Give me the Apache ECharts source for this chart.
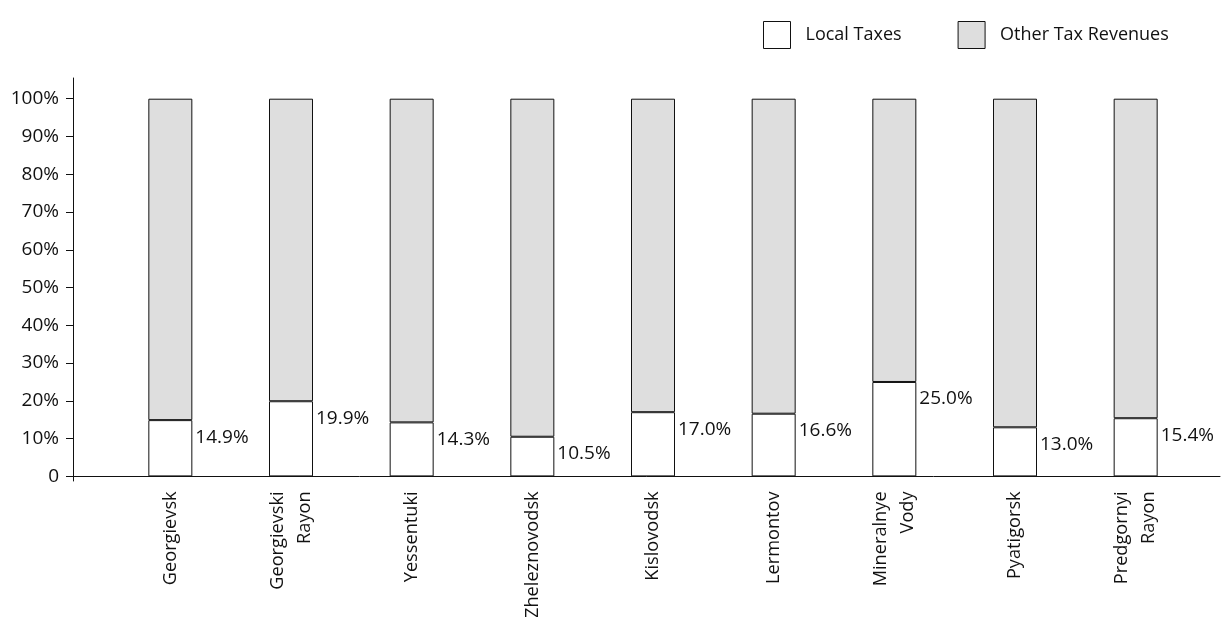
<!DOCTYPE html>
<html>
<head>
<meta charset="utf-8">
<script src="https://cdn.jsdelivr.net/npm/echarts@6/dist/echarts.min.js"></script>
<style>
  html, body { margin: 0; padding: 0; background: #fff; }
  #chart { width: 1223px; height: 617px; }
</style>
</head>
<body>
<div id="chart"></div>
<script>
// Share of local taxes in total tax revenues, by municipality
const categories = [
  'Georgievsk', 'Georgievski\nRayon', 'Yessentuki', 'Zheleznovodsk',
  'Kislovodsk', 'Lermontov', 'Mineralnye\nVody', 'Pyatigorsk', 'Predgornyi\nRayon'
];
const localTaxes = [14.9, 19.9, 14.3, 10.5, 17.0, 16.6, 25.0, 13.0, 15.4];
const otherTaxRevenues = [85.1, 80.1, 85.7, 89.5, 83.0, 83.4, 75.0, 87.0, 84.6];
const seriesNames = ['Local Taxes', 'Other Tax Revenues'];
const yTicks = [0, 10, 20, 30, 40, 50, 60, 70, 80, 90, 100];

const FONT = "'Open Sans', 'Noto Sans', sans-serif";
const INK = '#111111';
const NUMBER_SIZE = 19;
const NAME_SIZE = 18.2;

const chart = echarts.init(document.getElementById('chart'), null, { renderer: 'canvas' });

// Plot area for the bars, and a wider frame grid that carries the long axis lines
const plotTop = 98.7, plotHeight = 377.7;
const unitPx = plotHeight / 100;
const frameTop = 78, frameBottom = 481;

chart.setOption({
  animation: false,
  backgroundColor: '#ffffff',
  textStyle: { fontFamily: FONT, color: INK },
  legend: {
    left: 758, top: 16,
    itemWidth: 27, itemHeight: 27, itemGap: 56,
    icon: 'rect',
    selectedMode: false,
    itemStyle: { borderColor: INK, borderWidth: 1 },
    textStyle: { fontSize: 18, color: INK, fontFamily: FONT, padding: [0, 0, 0, 10] },
    data: seriesNames
  },
  grid: [
    {
      left: 110, width: 1086, top: plotTop, height: plotHeight,
      containLabel: false, outerBoundsMode: 'none'
    },
    {
      left: 73, right: 3, top: frameTop, height: frameBottom - frameTop,
      containLabel: false, outerBoundsMode: 'none'
    }
  ],
  xAxis: [
    {
      type: 'category', gridIndex: 0, data: categories,
      axisLine: { show: false }, axisTick: { show: false },
      axisLabel: {
        rotate: 90, interval: 0, margin: 15,
        fontSize: NAME_SIZE, lineHeight: 27, color: INK, fontFamily: FONT
      }
    },
    {
      type: 'value', gridIndex: 1, min: 0, max: 1,
      axisLine: { show: true, onZero: true, lineStyle: { color: INK, width: 1 } },
      axisTick: { show: false }, axisLabel: { show: false }, splitLine: { show: false }
    }
  ],
  yAxis: [
    {
      type: 'value', gridIndex: 0, min: 0, max: 100, interval: 10, offset: 37,
      axisLine: { show: false },
      axisTick: { show: true, length: 7, lineStyle: { color: INK } },
      splitLine: { show: false },
      axisLabel: {
        margin: 14, fontSize: NUMBER_SIZE, color: INK, fontFamily: FONT,
        formatter: v => (yTicks.includes(v) ? (v === 0 ? '0' : v + '%') : '')
      }
    },
    {
      type: 'value', gridIndex: 1,
      min: -(frameBottom - (plotTop + plotHeight)) / unitPx,
      max: (plotTop + plotHeight - frameTop) / unitPx,
      axisLine: { show: true, onZero: false, lineStyle: { color: INK, width: 1 } },
      axisTick: { show: false }, axisLabel: { show: false }, splitLine: { show: false }
    }
  ],
  series: [
    {
      name: seriesNames[0], type: 'bar', stack: 'total',
      xAxisIndex: 0, yAxisIndex: 0, barWidth: 44,
      data: localTaxes,
      itemStyle: { color: '#ffffff', borderColor: INK, borderWidth: 1 },
      label: {
        show: true, position: ['100%', 0], offset: [3, 17],
        verticalAlign: 'middle', align: 'left',
        fontSize: NUMBER_SIZE, color: INK, fontFamily: FONT,
        formatter: p => p.value.toFixed(1) + '%'
      },
      z: 3
    },
    {
      name: seriesNames[1], type: 'bar', stack: 'total',
      xAxisIndex: 0, yAxisIndex: 0, barWidth: 44,
      data: otherTaxRevenues,
      itemStyle: { color: '#dedede', borderColor: INK, borderWidth: 1 },
      z: 2
    }
  ]
});
</script>
</body>
</html>
